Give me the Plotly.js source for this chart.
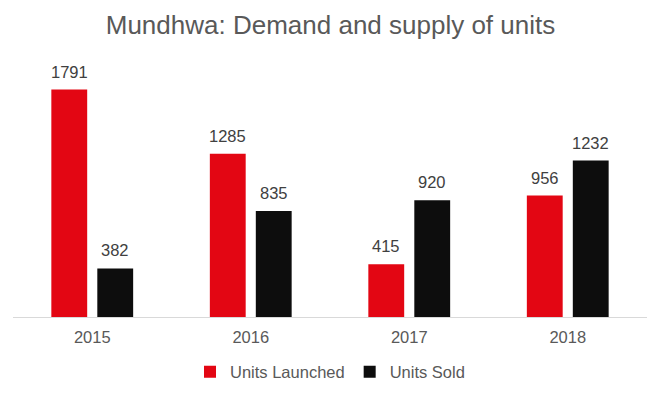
<!DOCTYPE html>
<html>
<head>
<meta charset="utf-8">
<script src="https://cdn.plot.ly/plotly-3.0.1.min.js"></script>
<style>html,body{margin:0;padding:0;background:#fff;}#chart{width:661px;height:395px;}</style>
</head>
<body>
<div id="chart"></div>
<script>
const years = ["2015", "2016", "2017", "2018"];
const unitsLaunched = [1791, 1285, 415, 956];
const unitsSold = [382, 835, 920, 1232];
const seriesNames = ["Units Launched", "Units Sold"];
const chartTitle = "Mundhwa: Demand and supply of units";

const font = "Liberation Sans, Arial, sans-serif";
const traces = [
  {type: "bar", name: seriesNames[0], x: years, y: unitsLaunched,
   marker: {color: "#e30613"}, hoverinfo: "none"},
  {type: "bar", name: seriesNames[1], x: years, y: unitsSold,
   marker: {color: "#0d0d0d"}, hoverinfo: "none"}
];
const annotations = [];
[unitsLaunched, unitsSold].forEach((vals, si) => {
  vals.forEach((v, i) => {
    annotations.push({x: i, y: v, xref: "x", yref: "y", text: String(v),
      showarrow: false, xanchor: "center", yanchor: "bottom",
      xshift: si === 0 ? -23 : 23, yshift: 7,
      font: {family: font, size: 16.5, color: "#404040"}});
  });
});
const layout = {
  width: 661, height: 395,
  margin: {l: 13, r: 14, t: 63, b: 78, autoexpand: false},
  paper_bgcolor: "#fff", plot_bgcolor: "#fff",
  font: {family: font, color: "#595959"},
  title: {text: chartTitle, x: 0.5, xanchor: "center", y: 0.938, yanchor: "middle",
          font: {family: font, size: 26, color: "#595959"}},
  barmode: "group", bargap: 0.42, bargroupgap: 0.22,
  xaxis: {type: "category", showline: true, linecolor: "#d9d9d9", linewidth: 1,
          ticks: "", showgrid: false, ticklabelstandoff: 5,
          range: [-0.5, years.length - 0.5], autorange: false,
          tickfont: {family: font, size: 16.5, color: "#595959"}},
  yaxis: {range: [0, 2000], visible: false, showgrid: false, zeroline: false},
  annotations: annotations,
  showlegend: true,
  legend: {orientation: "h", x: 0.5, xanchor: "center", y: -0.217, yanchor: "middle",
           font: {family: font, size: 16.5, color: "#595959"}, itemwidth: 30}
};
Plotly.newPlot("chart", traces, layout, {displayModeBar: false, staticPlot: true});
</script>
</body>
</html>
